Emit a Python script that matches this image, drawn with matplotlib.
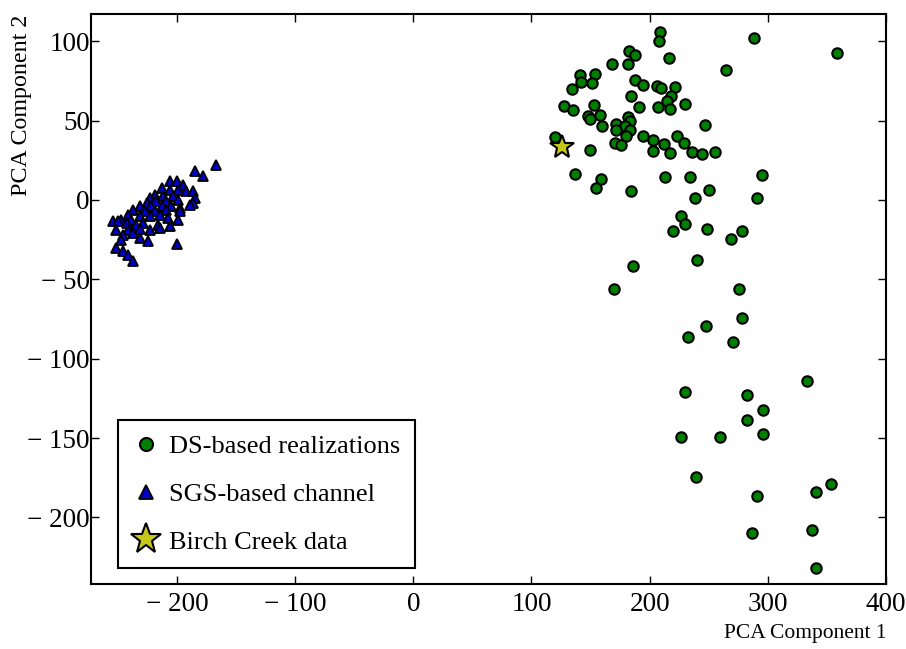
import matplotlib
matplotlib.use("Agg")
import matplotlib.pyplot as plt
from matplotlib.ticker import FuncFormatter

plt.rcParams['font.family'] = ['Liberation Serif', 'DejaVu Serif']

# DS-based realizations (green circles)
ds_x = [208.5, 207.7, 288.1, 358.3, 264.4, 216.2, 182.3, 187.4, 167.9, 181.5,
        140.9, 154.1, 142.3, 151.6, 134.7, 187.4, 194.4, 206.3, 210.0, 221.2,
        184.0, 218.4, 214.7, 127.3, 135.2, 153.0, 190.8, 207.1, 217.0, 229.7,
        147.4, 149.3, 157.8, 159.7, 171.9, 181.7, 183.2, 178.9, 247.2, 171.9,
        183.2, 179.8, 194.4, 202.9, 211.9, 222.7, 229.1, 119.7, 149.3, 170.5,
        176.1, 202.4, 217.0, 236.2, 244.3, 255.1, 136.6, 159.2, 154.4, 184.6,
        212.8, 233.9, 238.7, 250.0, 295.1, 290.4, 226.3, 229.9, 220.1, 248.1,
        278.5, 269.2, 186.0, 240.4, 169.4, 275.4, 278.2, 247.5, 232.2, 270.9,
        333.2, 230.3, 282.6, 295.7, 282.7, 296.3, 226.3, 259.6, 239.0, 353.0,
        340.5, 291.2, 286.6, 337.1, 341.1]
ds_y = [105.8, 99.9, 102.2, 92.6, 82.1, 89.4, 94.0, 91.1, 85.8, 85.6,
        78.5, 79.3, 74.3, 73.7, 69.9, 75.8, 72.4, 72.0, 70.5, 70.9,
        65.7, 65.7, 62.5, 58.9, 56.9, 59.6, 58.6, 58.6, 57.5, 60.5,
        52.6, 51.0, 53.3, 46.8, 48.0, 52.3, 49.5, 46.8, 47.4, 44.3,
        44.3, 40.5, 40.1, 38.0, 35.3, 40.5, 35.9, 39.7, 31.2, 35.9,
        34.4, 30.6, 29.6, 30.0, 29.2, 30.0, 16.6, 13.4, 7.6, 5.4,
        14.7, 14.7, 1.3, 6.5, 15.9, 1.3, -10.3, -15.1, -19.3, -18.1,
        -19.3, -24.4, -41.4, -37.8, -56.0, -55.9, -74.3, -79.2, -86.5, -89.2,
        -114.2, -120.9, -122.6, -132.1, -138.4, -147.4, -149.5, -149.5, -174.4, -178.7,
        -184.1, -186.6, -209.7, -208.2, -231.7]

# SGS-based channel (blue triangles)
sgs_x = [-166.5, -184.9, -178.3, -206.0, -200.3, -194.8, -213.0, -206.0, -199.0, -191.9,
         -186.3, -218.7, -211.7, -203.2, -184.9, -222.9, -217.3, -208.8, -199.0, -225.7,
         -186.3, -231.4, -221.5, -213.0, -204.6, -197.5, -189.1, -237.1, -227.2, -218.7,
         -208.8, -197.5, -241.3, -231.4, -222.9, -214.5, -207.4, -199.0, -246.9, -238.4,
         -254.0, -249.7, -242.6, -234.2, -228.6, -215.9, -206.0, -251.1, -241.3, -231.4,
         -222.9, -214.5, -245.5, -237.1, -246.9, -231.4, -224.4, -200.3, -251.7, -245.5,
         -241.3, -237.1]
sgs_y = [22.2, 18.0, 14.9, 11.7, 11.7, 9.6, 7.6, 6.5, 6.5, 5.4,
         5.4, 3.3, 2.3, 2.3, 1.3, 1.3, -0.9, -0.9, 0.2, -1.9,
         -1.9, -4.0, -4.0, -4.0, -4.0, -5.0, -3.0, -6.1, -7.2, -7.2,
         -6.1, -7.2, -9.3, -10.3, -10.3, -9.3, -11.3, -12.4, -12.4, -12.4,
         -13.5, -13.5, -14.5, -15.6, -14.5, -15.6, -16.6, -18.7, -18.7, -18.3,
         -18.7, -17.6, -21.9, -20.8, -25.0, -23.9, -26.1, -27.7, -30.2, -32.4,
         -34.4, -38.7]

# Birch Creek data (star)
bc_x = [125.6]
bc_y = [33.4]

labels = ["DS-based realizations", "SGS-based channel", "Birch Creek data"]

fig = plt.figure(figsize=(9.06, 6.49), dpi=100)
ax = fig.add_axes([0.100, 0.100, 0.878, 0.878])

ax.plot(ds_x, ds_y, linestyle='none', marker='o', markersize=7.5,
        markerfacecolor=(0, 0.5, 0), markeredgecolor='black', markeredgewidth=1.5,
        label=labels[0])
ax.plot(sgs_x, sgs_y, linestyle='none', marker='^', markersize=7.5,
        markerfacecolor=(0, 0, 0.8), markeredgecolor='black', markeredgewidth=1.3,
        label=labels[1])
ax.plot(bc_x, bc_y, linestyle='none', marker='*', markersize=18,
        markerfacecolor=(0.78, 0.78, 0.1), markeredgecolor='black', markeredgewidth=1.5,
        label=labels[2])

ax.set_xlim(-273, 400)
ax.set_ylim(-242, 117)
ax.set_xticks([-200, -100, 0, 100, 200, 300, 400])
ax.set_yticks([-200, -150, -100, -50, 0, 50, 100])

def fmt(v, pos):
    v = int(round(v))
    return "\u2212 %d" % (-v) if v < 0 else "%d" % v

ax.xaxis.set_major_formatter(FuncFormatter(fmt))
ax.yaxis.set_major_formatter(FuncFormatter(fmt))

for s in ax.spines.values():
    s.set_linewidth(1.5)
ax.tick_params(direction='in', top=True, right=True, length=6, width=1,
               labelsize=19.5)
ax.tick_params(axis='x', pad=6)
ax.tick_params(axis='y', pad=0.5)

ax.set_xlabel("PCA Component 1", fontsize=15.5, loc='right', labelpad=5)
ax.set_ylabel("PCA Component 2", fontsize=17.3, loc='top', labelpad=-3.5)

leg = ax.legend(loc='lower left', bbox_to_anchor=(0.034, 0.028), borderaxespad=0,
                fontsize=19, numpoints=1, labelspacing=0.92, handletextpad=0.34,
                handlelength=1.06, borderpad=0.55, markerscale=1.25,
                fancybox=False, framealpha=1)
leg.get_frame().set_edgecolor('black')
leg.get_frame().set_linewidth(1.5)

fig.savefig("out.png", dpi=100)
